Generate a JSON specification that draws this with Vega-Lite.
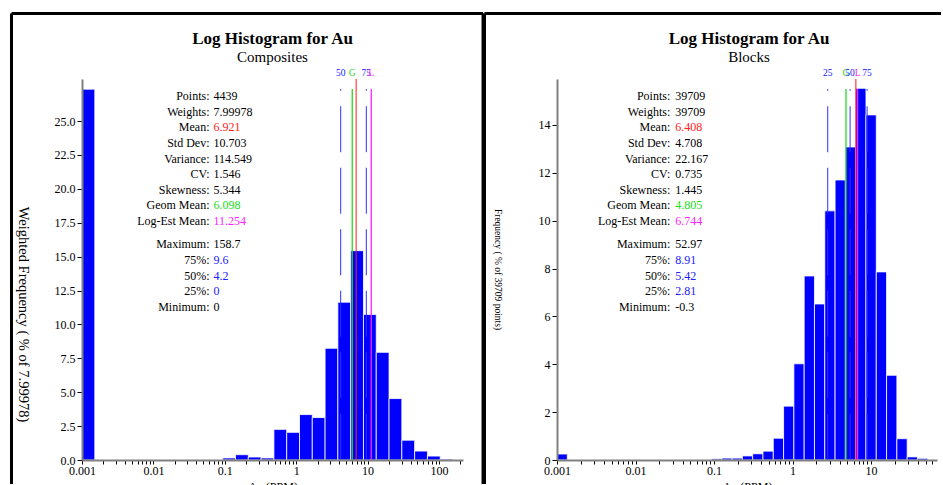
{
  "$schema": "https://vega.github.io/schema/vega-lite/v6.json",
  "autosize": {"type": "pad"},
  "padding": {"left": 9, "top": 11, "right": 0, "bottom": 0},
  "background": "#ffffff",
  "spacing": 94,
  "bounds": "flush",
  "datasets": {
    "compBars": [
      {"lo": 0.001, "hi": 0.001511, "pct": 27.35},
      {"lo": 0.09359, "hi": 0.14137, "pct": 0.15},
      {"lo": 0.14137, "hi": 0.21356, "pct": 0.39},
      {"lo": 0.21356, "hi": 0.32263, "pct": 0.22},
      {"lo": 0.32263, "hi": 0.48753, "pct": 0.15},
      {"lo": 0.48753, "hi": 0.73672, "pct": 2.26},
      {"lo": 0.73672, "hi": 1.1128, "pct": 2.04},
      {"lo": 1.1128, "hi": 1.681, "pct": 3.35},
      {"lo": 1.681, "hi": 2.54, "pct": 3.13},
      {"lo": 2.54, "hi": 3.8371, "pct": 8.24},
      {"lo": 3.8371, "hi": 5.7983, "pct": 11.64},
      {"lo": 5.7983, "hi": 8.7585, "pct": 15.44},
      {"lo": 8.7585, "hi": 13.229, "pct": 10.74},
      {"lo": 13.229, "hi": 19.987, "pct": 7.94},
      {"lo": 19.987, "hi": 30.2, "pct": 4.53},
      {"lo": 30.2, "hi": 45.615, "pct": 1.46},
      {"lo": 45.615, "hi": 68.913, "pct": 0.66},
      {"lo": 68.913, "hi": 104.13, "pct": 0.29},
      {"lo": 104.13, "hi": 157.3, "pct": 0.07}
    ],
    "blockBars": [
      {"lo": 0.001, "hi": 0.0013526, "pct": 0.25},
      {"lo": 0.092897, "hi": 0.12566, "pct": 0.05},
      {"lo": 0.12566, "hi": 0.16997, "pct": 0.08},
      {"lo": 0.16997, "hi": 0.22993, "pct": 0.08},
      {"lo": 0.22993, "hi": 0.31102, "pct": 0.17},
      {"lo": 0.31102, "hi": 0.42073, "pct": 0.26},
      {"lo": 0.42073, "hi": 0.56911, "pct": 0.37},
      {"lo": 0.56911, "hi": 0.76985, "pct": 0.91},
      {"lo": 0.76985, "hi": 1.04136, "pct": 2.25},
      {"lo": 1.04136, "hi": 1.40862, "pct": 4.02},
      {"lo": 1.40862, "hi": 1.90546, "pct": 7.69},
      {"lo": 1.90546, "hi": 2.5775, "pct": 6.52},
      {"lo": 2.5775, "hi": 3.4866, "pct": 10.41},
      {"lo": 3.4866, "hi": 4.7163, "pct": 11.7},
      {"lo": 4.7163, "hi": 6.3802, "pct": 13.08},
      {"lo": 6.3802, "hi": 8.6303, "pct": 15.53},
      {"lo": 8.6303, "hi": 11.674, "pct": 14.42},
      {"lo": 11.674, "hi": 15.791, "pct": 7.86},
      {"lo": 15.791, "hi": 21.361, "pct": 3.54},
      {"lo": 21.361, "hi": 28.893, "pct": 0.89},
      {"lo": 28.893, "hi": 39.084, "pct": 0.13},
      {"lo": 39.084, "hi": 52.86, "pct": 0.07}
    ],
    "compMarks": [
      {"tag": "50", "value": 4.2, "kind": "quantile"},
      {"tag": "G", "value": 6.098, "kind": "geom"},
      {"tag": "", "value": 6.921, "kind": "mean"},
      {"tag": "75", "value": 9.6, "kind": "quantile"},
      {"tag": "L", "value": 11.254, "kind": "logest"}
    ],
    "blockMarks": [
      {"tag": "25", "value": 2.81, "kind": "quantile"},
      {"tag": "G", "value": 4.805, "kind": "geom"},
      {"tag": "50", "value": 5.42, "kind": "quantile"},
      {"tag": "", "value": 6.408, "kind": "mean"},
      {"tag": "L", "value": 6.744, "kind": "logest"},
      {"tag": "75", "value": 8.91, "kind": "quantile"}
    ],
    "compStats": [
      {"line": 1, "label": "Points:", "value": "4439", "kind": "plain"},
      {"line": 2, "label": "Weights:", "value": "7.99978", "kind": "plain"},
      {"line": 3, "label": "Mean:", "value": "6.921", "kind": "mean"},
      {"line": 4, "label": "Std Dev:", "value": "10.703", "kind": "plain"},
      {"line": 5, "label": "Variance:", "value": "114.549", "kind": "plain"},
      {"line": 6, "label": "CV:", "value": "1.546", "kind": "plain"},
      {"line": 7, "label": "Skewness:", "value": "5.344", "kind": "plain"},
      {"line": 8, "label": "Geom Mean:", "value": "6.098", "kind": "geom"},
      {"line": 9, "label": "Log-Est Mean:", "value": "11.254", "kind": "logest"},
      {"line": 10.5, "label": "Maximum:", "value": "158.7", "kind": "plain"},
      {"line": 11.5, "label": "75%:", "value": "9.6", "kind": "quantile"},
      {"line": 12.5, "label": "50%:", "value": "4.2", "kind": "quantile"},
      {"line": 13.5, "label": "25%:", "value": "0", "kind": "quantile"},
      {"line": 14.5, "label": "Minimum:", "value": "0", "kind": "plain"}
    ],
    "blockStats": [
      {"line": 1, "label": "Points:", "value": "39709", "kind": "plain"},
      {"line": 2, "label": "Weights:", "value": "39709", "kind": "plain"},
      {"line": 3, "label": "Mean:", "value": "6.408", "kind": "mean"},
      {"line": 4, "label": "Std Dev:", "value": "4.708", "kind": "plain"},
      {"line": 5, "label": "Variance:", "value": "22.167", "kind": "plain"},
      {"line": 6, "label": "CV:", "value": "0.735", "kind": "plain"},
      {"line": 7, "label": "Skewness:", "value": "1.445", "kind": "plain"},
      {"line": 8, "label": "Geom Mean:", "value": "4.805", "kind": "geom"},
      {"line": 9, "label": "Log-Est Mean:", "value": "6.744", "kind": "logest"},
      {"line": 10.5, "label": "Maximum:", "value": "52.97", "kind": "plain"},
      {"line": 11.5, "label": "75%:", "value": "8.91", "kind": "quantile"},
      {"line": 12.5, "label": "50%:", "value": "5.42", "kind": "quantile"},
      {"line": 13.5, "label": "25%:", "value": "2.81", "kind": "quantile"},
      {"line": 14.5, "label": "Minimum:", "value": "-0.3", "kind": "plain"}
    ]
  },
  "hconcat": [
    {
      "width": 381,
      "height": 381,
      "layer": [
        {
          "data": {"name": "compBars"},
          "mark": {"type": "rect", "fill": "#0000ff", "stroke": "#ffffff", "strokeWidth": 0.8},
          "encoding": {
            "x": {
              "field": "lo", "type": "quantitative",
              "scale": {"type": "log", "domain": [0.001, 217], "nice": false},
              "axis": {
                "values": [0.001, 0.002, 0.003, 0.004, 0.005, 0.006, 0.007, 0.008, 0.009, 0.01, 0.02, 0.03, 0.04, 0.05, 0.06, 0.07, 0.08, 0.09, 0.1, 0.2, 0.3, 0.4, 0.5, 0.6, 0.7, 0.8, 0.9, 1, 2, 3, 4, 5, 6, 7, 8, 9, 10, 20, 30, 40, 50, 60, 70, 80, 90, 100, 200],
                "format": "~g",
                "labelExpr": "indexof([0.001, 0.01, 0.1, 1, 10, 100], datum.value) >= 0 ? datum.label : ''",
                "labelOverlap": false,
                "labelFlush": false,
                "tickSize": 4,
                "labelPadding": 1,
                "title": "Au (PPM)",
                "titleFontSize": 12,
                "titlePadding": 5,
                "zindex": 1
              }
            },
            "x2": {"field": "hi"},
            "y": {
              "field": "pct", "type": "quantitative",
              "scale": {"domain": [0, 28.1], "nice": false},
              "axis": {
                "values": [0, 2.5, 5, 7.5, 10, 12.5, 15, 17.5, 20, 22.5, 25],
                "format": ".1f",
                "tickSize": 5,
                "labelPadding": 2,
                "title": "Weighted Frequency ( % of 7.99978)",
                "titleFontSize": 14.5,
                "titleAngle": 90,
                "titleAlign": "center",
                "titleBaseline": "middle",
                "titleX": -60,
                "titleY": 235,
                "zindex": 1
              }
            },
            "y2": {"datum": 0}
          }
        },
        {
          "data": {"values": [{}]},
          "mark": {"type": "rule", "color": "#000000", "strokeWidth": 3},
          "encoding": {
            "x": {"datum": 0.00010291, "type": "quantitative", "scale": {"type": "log", "domain": [0.001, 217], "nice": false}, "axis": null},
            "y": {"datum": 32.93, "type": "quantitative", "scale": {"domain": [0, 28.1], "nice": false}, "axis": null},
            "y2": {"datum": -1.77}
          }
        },
        {
          "data": {"values": [{}]},
          "mark": {"type": "rule", "color": "#000000", "strokeWidth": 3},
          "encoding": {
            "x": {"datum": 0.00010291, "type": "quantitative", "scale": {"type": "log", "domain": [0.001, 217], "nice": false}, "axis": null},
            "x2": {"datum": 414.0},
            "y": {"datum": 32.93, "type": "quantitative", "scale": {"domain": [0, 28.1], "nice": false}, "axis": null}
          }
        },
        {
          "data": {"values": [{}]},
          "mark": {"type": "rule", "color": "#000000", "strokeWidth": 3},
          "encoding": {
            "x": {"datum": 414.0, "type": "quantitative", "scale": {"type": "log", "domain": [0.001, 217], "nice": false}, "axis": null},
            "y": {"datum": 32.93, "type": "quantitative", "scale": {"domain": [0, 28.1], "nice": false}, "axis": null},
            "y2": {"datum": -1.77}
          }
        },
        {
          "data": {"values": [{}]},
          "mark": {"type": "text", "text": "Log Histogram for Au", "fontSize": 17, "fontWeight": "bold", "align": "center", "baseline": "alphabetic"},
          "encoding": {
            "x": {"datum": 0.4659, "type": "quantitative", "scale": {"type": "log", "domain": [0.001, 217], "nice": false}, "axis": null},
            "y": {"datum": 30.7, "type": "quantitative", "scale": {"domain": [0, 28.1], "nice": false}, "axis": null}
          }
        },
        {
          "data": {"values": [{}]},
          "mark": {"type": "text", "text": "Composites", "fontSize": 15, "align": "center", "baseline": "alphabetic"},
          "encoding": {
            "x": {"datum": 0.4659, "type": "quantitative", "scale": {"type": "log", "domain": [0.001, 217], "nice": false}, "axis": null},
            "y": {"datum": 29.39, "type": "quantitative", "scale": {"domain": [0, 28.1], "nice": false}, "axis": null}
          }
        },
        {
          "data": {"name": "compMarks"},
          "transform": [{"filter": "datum.kind == 'quantile'"}],
          "mark": {"type": "rule", "color": "#3030ff", "strokeWidth": 1, "strokeDash": [46, 15.5], "strokeDashOffset": 44.3},
          "encoding": {
            "x": {"field": "value", "type": "quantitative", "scale": {"type": "log", "domain": [0.001, 217], "nice": false}, "axis": null},
            "y": {"datum": 27.36, "type": "quantitative", "scale": {"domain": [0, 28.1], "nice": false}, "axis": null},
            "y2": {"datum": 0}
          }
        },
        {
          "data": {"name": "compMarks"},
          "transform": [{"filter": "datum.kind == 'geom' || datum.kind == 'logest'"}],
          "mark": {"type": "rule", "strokeWidth": 1.3},
          "encoding": {
            "x": {"field": "value", "type": "quantitative", "scale": {"type": "log", "domain": [0.001, 217], "nice": false}, "axis": null},
            "y": {"datum": 27.36, "type": "quantitative", "scale": {"domain": [0, 28.1], "nice": false}, "axis": null},
            "y2": {"datum": 0},
            "color": {"field": "kind", "type": "nominal", "scale": {"domain": ["plain", "quantile", "geom", "mean", "logest"], "range": ["#000000", "#2020ff", "#20dd20", "#ff2020", "#ff20ff"]}, "legend": null}
          }
        },
        {
          "data": {"name": "compMarks"},
          "transform": [{"filter": "datum.kind == 'mean'"}],
          "mark": {"type": "rule", "strokeWidth": 1.3, "opacity": 0.8},
          "encoding": {
            "x": {"field": "value", "type": "quantitative", "scale": {"type": "log", "domain": [0.001, 217], "nice": false}, "axis": null},
            "y": {"datum": 28.1, "type": "quantitative", "scale": {"domain": [0, 28.1], "nice": false}, "axis": null},
            "y2": {"datum": 0},
            "color": {"field": "kind", "type": "nominal", "scale": {"domain": ["plain", "quantile", "geom", "mean", "logest"], "range": ["#000000", "#2020ff", "#20dd20", "#ff2020", "#ff20ff"]}, "legend": null}
          }
        },
        {
          "data": {"name": "compMarks"},
          "transform": [{"filter": "datum.tag != ''"}],
          "mark": {"type": "text", "fontSize": 9.5, "align": "center", "baseline": "middle"},
          "encoding": {
            "x": {"field": "value", "type": "quantitative", "scale": {"type": "log", "domain": [0.001, 217], "nice": false}, "axis": null},
            "y": {"datum": 28.54, "type": "quantitative", "scale": {"domain": [0, 28.1], "nice": false}, "axis": null},
            "text": {"field": "tag"},
            "color": {"field": "kind", "type": "nominal", "scale": {"domain": ["plain", "quantile", "geom", "mean", "logest"], "range": ["#000000", "#2020ff", "#20dd20", "#ff2020", "#ff20ff"]}, "legend": null}
          }
        },
        {
          "data": {"name": "compStats"},
          "mark": {"type": "text", "align": "right", "baseline": "middle", "fontSize": 12},
          "encoding": {
            "x": {"datum": 0.0611, "type": "quantitative", "scale": {"type": "log", "domain": [0.001, 217], "nice": false}, "axis": null},
            "y": {"field": "line", "type": "quantitative", "scale": {"domain": [-0.0877, 24.289], "reverse": true, "nice": false, "zero": false}, "axis": null},
            "text": {"field": "label"}
          }
        },
        {
          "data": {"name": "compStats"},
          "mark": {"type": "text", "align": "left", "baseline": "middle", "fontSize": 12, "dx": 4},
          "encoding": {
            "x": {"datum": 0.0611, "type": "quantitative", "scale": {"type": "log", "domain": [0.001, 217], "nice": false}, "axis": null},
            "y": {"field": "line", "type": "quantitative", "scale": {"domain": [-0.0877, 24.289], "reverse": true, "nice": false, "zero": false}, "axis": null},
            "text": {"field": "value"},
            "color": {"field": "kind", "type": "nominal", "scale": {"domain": ["plain", "quantile", "geom", "mean", "logest"], "range": ["#000000", "#2020ff", "#20dd20", "#ff2020", "#ff20ff"]}, "legend": null}
          }
        }
      ],
      "resolve": {"scale": {"x": "independent", "y": "independent"}}
    },
    {
      "width": 380,
      "height": 381,
      "layer": [
        {
          "data": {"name": "blockBars"},
          "mark": {"type": "rect", "fill": "#0000ff", "stroke": "#ffffff", "strokeWidth": 0.8},
          "encoding": {
            "x": {
              "field": "lo", "type": "quantitative",
              "scale": {"type": "log", "domain": [0.001, 69.3], "nice": false},
              "axis": {
                "values": [0.001, 0.002, 0.003, 0.004, 0.005, 0.006, 0.007, 0.008, 0.009, 0.01, 0.02, 0.03, 0.04, 0.05, 0.06, 0.07, 0.08, 0.09, 0.1, 0.2, 0.3, 0.4, 0.5, 0.6, 0.7, 0.8, 0.9, 1, 2, 3, 4, 5, 6, 7, 8, 9, 10, 20, 30, 40, 50, 60],
                "format": "~g",
                "labelExpr": "indexof([0.001, 0.01, 0.1, 1, 10, 100], datum.value) >= 0 ? datum.label : ''",
                "labelOverlap": false,
                "labelFlush": false,
                "tickSize": 4,
                "labelPadding": 1,
                "title": "Au (PPM)",
                "titleFontSize": 12,
                "titlePadding": 5,
                "zindex": 1
              }
            },
            "x2": {"field": "hi"},
            "y": {
              "field": "pct", "type": "quantitative",
              "scale": {"domain": [0, 15.92], "nice": false},
              "axis": {
                "values": [0, 2, 4, 6, 8, 10, 12, 14],
                "format": "d",
                "tickSize": 5,
                "labelPadding": 2,
                "title": "Frequency ( % of 39709 points)",
                "titleFontSize": 9.5,
                "titleAngle": 90,
                "titleAlign": "center",
                "titleBaseline": "middle",
                "titleX": -60,
                "titleY": 190,
                "zindex": 1
              }
            },
            "y2": {"datum": 0}
          }
        },
        {
          "data": {"values": [{}]},
          "mark": {"type": "rule", "color": "#000000", "strokeWidth": 3},
          "encoding": {
            "x": {"datum": 0.00011925, "type": "quantitative", "scale": {"type": "log", "domain": [0.001, 69.3], "nice": false}, "axis": null},
            "y": {"datum": 18.657, "type": "quantitative", "scale": {"domain": [0, 15.92], "nice": false}, "axis": null},
            "y2": {"datum": -1.003}
          }
        },
        {
          "data": {"values": [{}]},
          "mark": {"type": "rule", "color": "#000000", "strokeWidth": 3},
          "encoding": {
            "x": {"datum": 0.00011925, "type": "quantitative", "scale": {"type": "log", "domain": [0.001, 69.3], "nice": false}, "axis": null},
            "x2": {"datum": 77.95},
            "y": {"datum": 18.657, "type": "quantitative", "scale": {"domain": [0, 15.92], "nice": false}, "axis": null}
          }
        },
        {
          "data": {"values": [{}]},
          "mark": {"type": "text", "text": "Log Histogram for Au", "fontSize": 17, "fontWeight": "bold", "align": "center", "baseline": "alphabetic"},
          "encoding": {
            "x": {"datum": 0.2793, "type": "quantitative", "scale": {"type": "log", "domain": [0.001, 69.3], "nice": false}, "axis": null},
            "y": {"datum": 17.4, "type": "quantitative", "scale": {"domain": [0, 15.92], "nice": false}, "axis": null}
          }
        },
        {
          "data": {"values": [{}]},
          "mark": {"type": "text", "text": "Blocks", "fontSize": 15, "align": "center", "baseline": "alphabetic"},
          "encoding": {
            "x": {"datum": 0.2793, "type": "quantitative", "scale": {"type": "log", "domain": [0.001, 69.3], "nice": false}, "axis": null},
            "y": {"datum": 16.65, "type": "quantitative", "scale": {"domain": [0, 15.92], "nice": false}, "axis": null}
          }
        },
        {
          "data": {"name": "blockMarks"},
          "transform": [{"filter": "datum.kind == 'quantile'"}],
          "mark": {"type": "rule", "color": "#3030ff", "strokeWidth": 1, "strokeDash": [46, 15.5], "strokeDashOffset": 44.3},
          "encoding": {
            "x": {"field": "value", "type": "quantitative", "scale": {"type": "log", "domain": [0.001, 69.3], "nice": false}, "axis": null},
            "y": {"datum": 15.5, "type": "quantitative", "scale": {"domain": [0, 15.92], "nice": false}, "axis": null},
            "y2": {"datum": 0}
          }
        },
        {
          "data": {"name": "blockMarks"},
          "transform": [{"filter": "datum.kind == 'geom' || datum.kind == 'logest'"}],
          "mark": {"type": "rule", "strokeWidth": 1.3},
          "encoding": {
            "x": {"field": "value", "type": "quantitative", "scale": {"type": "log", "domain": [0.001, 69.3], "nice": false}, "axis": null},
            "y": {"datum": 15.5, "type": "quantitative", "scale": {"domain": [0, 15.92], "nice": false}, "axis": null},
            "y2": {"datum": 0},
            "color": {"field": "kind", "type": "nominal", "scale": {"domain": ["plain", "quantile", "geom", "mean", "logest"], "range": ["#000000", "#2020ff", "#20dd20", "#ff2020", "#ff20ff"]}, "legend": null}
          }
        },
        {
          "data": {"name": "blockMarks"},
          "transform": [{"filter": "datum.kind == 'mean'"}],
          "mark": {"type": "rule", "strokeWidth": 1.3, "opacity": 0.8},
          "encoding": {
            "x": {"field": "value", "type": "quantitative", "scale": {"type": "log", "domain": [0.001, 69.3], "nice": false}, "axis": null},
            "y": {"datum": 15.92, "type": "quantitative", "scale": {"domain": [0, 15.92], "nice": false}, "axis": null},
            "y2": {"datum": 0},
            "color": {"field": "kind", "type": "nominal", "scale": {"domain": ["plain", "quantile", "geom", "mean", "logest"], "range": ["#000000", "#2020ff", "#20dd20", "#ff2020", "#ff20ff"]}, "legend": null}
          }
        },
        {
          "data": {"name": "blockMarks"},
          "transform": [{"filter": "datum.tag != ''"}],
          "mark": {"type": "text", "fontSize": 9.5, "align": "center", "baseline": "middle"},
          "encoding": {
            "x": {"field": "value", "type": "quantitative", "scale": {"type": "log", "domain": [0.001, 69.3], "nice": false}, "axis": null},
            "y": {"datum": 16.17, "type": "quantitative", "scale": {"domain": [0, 15.92], "nice": false}, "axis": null},
            "text": {"field": "tag"},
            "color": {"field": "kind", "type": "nominal", "scale": {"domain": ["plain", "quantile", "geom", "mean", "logest"], "range": ["#000000", "#2020ff", "#20dd20", "#ff2020", "#ff20ff"]}, "legend": null}
          }
        },
        {
          "data": {"name": "blockStats"},
          "mark": {"type": "text", "align": "right", "baseline": "middle", "fontSize": 12},
          "encoding": {
            "x": {"datum": 0.0277, "type": "quantitative", "scale": {"type": "log", "domain": [0.001, 69.3], "nice": false}, "axis": null},
            "y": {"field": "line", "type": "quantitative", "scale": {"domain": [-0.0877, 24.289], "reverse": true, "nice": false, "zero": false}, "axis": null},
            "text": {"field": "label"}
          }
        },
        {
          "data": {"name": "blockStats"},
          "mark": {"type": "text", "align": "left", "baseline": "middle", "fontSize": 12, "dx": 5},
          "encoding": {
            "x": {"datum": 0.0277, "type": "quantitative", "scale": {"type": "log", "domain": [0.001, 69.3], "nice": false}, "axis": null},
            "y": {"field": "line", "type": "quantitative", "scale": {"domain": [-0.0877, 24.289], "reverse": true, "nice": false, "zero": false}, "axis": null},
            "text": {"field": "value"},
            "color": {"field": "kind", "type": "nominal", "scale": {"domain": ["plain", "quantile", "geom", "mean", "logest"], "range": ["#000000", "#2020ff", "#20dd20", "#ff2020", "#ff20ff"]}, "legend": null}
          }
        }
      ],
      "resolve": {"scale": {"x": "independent", "y": "independent"}}
    }
  ],
  "config": {
    "view": {"stroke": null},
    "font": "Liberation Serif",
    "text": {"font": "Liberation Serif", "color": "#000000"},
    "axis": {
      "labelFont": "Liberation Serif",
      "labelFontSize": 12,
      "labelColor": "#000000",
      "titleFont": "Liberation Serif",
      "titleFontWeight": "normal",
      "titleColor": "#000000",
      "domainColor": "#808080",
      "domainWidth": 2,
      "tickColor": "#000000",
      "tickWidth": 1,
      "grid": false
    }
  }
}
